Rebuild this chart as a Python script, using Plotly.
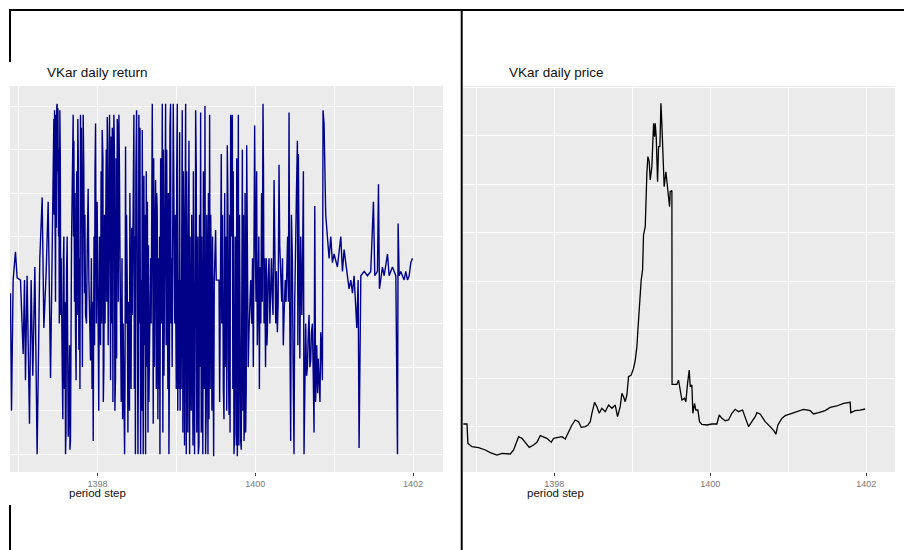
import plotly.graph_objects as go

# ---------------- data ----------------
# VKar daily return (percent), x = period step (Solar Hijri year, decimal)
ret_year = [
    1396.896, 1396.909, 1396.930, 1396.959, 1396.981, 1397.023, 1397.057, 1397.074, 1397.086, 1397.107,
    1397.137, 1397.158, 1397.179, 1397.205, 1397.234, 1397.268, 1397.298, 1397.319, 1397.349, 1397.374,
    1397.404, 1397.425, 1397.446, 1397.467, 1397.488, 1397.505, 1397.522, 1397.539, 1397.552, 1397.573,
    1397.594, 1397.615, 1397.636, 1397.657, 1397.670, 1397.691, 1397.708, 1397.721, 1397.750, 1397.763,
    1397.784, 1397.801, 1397.818, 1397.835, 1397.848, 1397.881, 1397.911, 1397.945, 1397.975, 1398.004,
    1398.038, 1398.059, 1398.080, 1398.101, 1398.123, 1398.135, 1398.152, 1398.165, 1398.207, 1398.228,
    1398.250, 1398.271, 1398.292, 1398.343, 1398.355, 1398.376, 1398.398, 1398.410, 1398.440, 1398.461,
    1398.474, 1398.495, 1398.512, 1398.524, 1398.546, 1398.567, 1398.579, 1398.588, 1398.609, 1398.618,
    1398.651, 1398.673, 1398.694, 1398.706, 1398.736, 1398.757, 1398.791, 1398.821, 1398.842, 1398.863,
    1398.884, 1398.905, 1398.926, 1398.939, 1398.960, 1398.977, 1398.990, 1399.011, 1399.024, 1399.041,
    1399.053, 1399.074, 1399.096, 1399.117, 1399.138, 1399.159, 1399.180, 1399.201, 1399.222, 1399.244,
    1399.265, 1399.286, 1399.307, 1399.328, 1399.349, 1399.362, 1399.370, 1399.392, 1399.413, 1399.421,
    1399.442, 1399.472, 1399.480, 1399.497, 1399.505, 1399.540, 1399.548, 1399.560, 1399.569, 1399.603,
    1399.624, 1399.645, 1399.667, 1399.688, 1399.709, 1399.730, 1399.751, 1399.772, 1399.785, 1399.815,
    1399.836, 1399.857, 1399.878, 1399.891, 1399.920, 1399.942, 1399.992, 1400.009, 1400.026, 1400.060,
    1400.098, 1400.111, 1400.153, 1400.174, 1400.195, 1400.216, 1400.238, 1400.259, 1400.280, 1400.301,
    1400.322, 1400.365, 1400.398, 1400.428, 1400.436, 1400.449, 1400.470, 1400.491, 1400.513, 1400.534,
    1400.546, 1400.555, 1400.576, 1400.610, 1400.618, 1400.639, 1400.661, 1400.682, 1400.703, 1400.724,
    1400.745, 1400.754, 1400.779, 1400.790, 1400.809, 1400.830, 1400.851, 1400.859, 1400.872, 1400.893,
    1400.914, 1400.936, 1400.957, 1400.978, 1400.999, 1401.041, 1401.084, 1401.105, 1401.126, 1401.168,
    1401.189, 1401.211, 1401.232, 1401.253, 1401.287, 1401.304, 1401.316, 1401.338, 1401.380, 1401.422,
    1401.464, 1401.498, 1401.515, 1401.549, 1401.562, 1401.574, 1401.612, 1401.634, 1401.676, 1401.697,
    1401.739, 1401.782, 1401.803, 1401.811, 1401.824, 1401.845, 1401.887, 1401.908, 1401.930, 1401.951,
    1401.972, 1401.993,
]
ret_pct = [
    -0.3, -3.0, 0.0, 0.65, 0.05, 0.0, -1.7, 0.0, -2.3, 0.1,
    -3.3, 0.0, -2.2, 0.3, -4.0, 0.5, 1.9, -1.1, 0.2, 1.8,
    -2.25, 0.8, 3.7, -0.5, 4.05, 1.0, 3.9, 0.5, -2.0, 1.0,
    -4.0, 1.0, -2.9, -3.7, 0.85, 3.8, -0.5, -1.2, 3.7, -1.6,
    3.8, 0.0, 3.8, -0.3, -0.8, 2.1, -1.85, -3.7, 3.6, -0.2,
    -1.5, 3.45, -2.0, 0.5, 3.75, -1.5, 3.8, -2.3, 3.8, -2.2,
    3.7, 3.8, -0.5, -4.0, 3.07, 0.0, -2.1, 2.0, -0.8, 3.8,
    1.0, 3.9, -4.0, 3.8, -4.0, 3.45, -4.0, 2.4, -4.0, 2.5,
    -2.8, 0.5, 4.05, -3.3, 2.3, 1.6, -4.0, 4.05, -2.2, 4.05,
    0.0, -4.0, 4.05, 0.5, 4.05, -1.0, -1.2, 4.05, 0.0, 3.4,
    0.0, 3.9, 0.5, 4.05, -0.5, 3.2, -2.2, 0.0, -3.3, 3.9,
    -1.0, -3.8, 3.85, -4.0, 0.5, 4.0, -4.0, 0.0, -3.2, 3.8,
    0.0, -4.05, 0.0, 1.15, 0.0, 0.0, -2.8, 0.0, 2.9, -3.2,
    0.0, 3.1, -3.1, 3.8, 3.8, -4.0, 0.5, -4.05, 3.8, -3.7,
    3.0, -3.7, -3.5, 3.1, -1.2, 0.0, 3.55, -0.5, -1.5, 0.3,
    4.05, -1.0, -1.2, 0.5, 0.0, -0.4, 2.3, -1.0, -1.2, 2.65,
    0.0, -0.8, 0.5, 3.85, -0.5, -3.7, 0.5, -4.0, 1.5, 3.2,
    2.9, -0.5, 1.0, 2.5, -4.0, -1.0, -2.0, -0.8, -1.85, -1.0,
    -3.5, 1.7, -1.5, -2.6, -2.2, -1.2, -2.3, 3.9, 3.6, 1.5,
    1.0, 0.5, 1.0, 0.4, 0.6, 0.3, 1.0, 0.2, 0.7, 0.1,
    -0.2, 0.0, -0.3, 0.1, -1.1, 0.0, -3.86, 0.1, 0.2, 0.1,
    0.2, 1.8, 0.1, 0.2, 2.2, -0.2, 0.3, 0.1, 0.6, 0.1,
    0.3, 0.1, -4.0, 1.3, 0.1, 0.2, 0.0, 0.2, 0.0, 0.1,
    0.4, 0.5,
]

dense_year = [
    1397.450, 1397.455, 1397.460, 1397.472, 1397.478, 1397.483, 1397.493, 1397.498, 1397.510, 1397.515,
    1397.528, 1397.533, 1397.560, 1397.567, 1397.580, 1397.588, 1397.600, 1397.607, 1397.622, 1397.628,
    1397.645, 1397.650, 1397.695, 1397.700, 1397.714, 1397.728, 1397.735, 1397.742, 1397.756, 1397.770,
    1397.777, 1397.790, 1397.795, 1397.808, 1397.812, 1397.825, 1397.840, 1397.860, 1397.870, 1397.890,
    1397.900, 1397.922, 1397.930, 1397.938, 1397.955, 1397.962, 1397.968, 1397.985, 1397.995, 1398.015,
    1398.025, 1398.045, 1398.052, 1398.068, 1398.073, 1398.088, 1398.095, 1398.110, 1398.117, 1398.128,
    1398.142, 1398.158, 1398.172, 1398.180, 1398.187, 1398.195, 1398.200, 1398.214, 1398.220, 1398.235,
    1398.242, 1398.257, 1398.264, 1398.278, 1398.285, 1398.300, 1398.310, 1398.318, 1398.325, 1398.333,
    1398.348, 1398.362, 1398.368, 1398.385, 1398.392, 1398.405, 1398.418, 1398.425, 1398.433, 1398.466,
    1398.480, 1398.486, 1398.503, 1398.518, 1398.530, 1398.538, 1398.556, 1398.560, 1398.572, 1398.584,
    1398.595, 1398.600, 1398.625, 1398.632, 1398.640, 1398.645, 1398.680, 1398.688, 1398.700, 1398.712,
    1398.720, 1398.728, 1398.745, 1398.750, 1398.765, 1398.772, 1398.780, 1398.786, 1398.800, 1398.808,
    1398.815, 1398.828, 1398.835, 1398.850, 1398.856, 1398.870, 1398.877, 1398.892, 1398.898, 1398.912,
    1398.918, 1398.932, 1398.946, 1398.953, 1398.968, 1398.984, 1398.998, 1399.004, 1399.017, 1399.030,
    1399.035, 1399.047, 1399.060, 1399.066, 1399.082, 1399.088, 1399.103, 1399.110, 1399.125, 1399.130,
    1399.145, 1399.152, 1399.167, 1399.173, 1399.188, 1399.194, 1399.210, 1399.215, 1399.230, 1399.237,
    1399.252, 1399.258, 1399.272, 1399.278, 1399.293, 1399.300, 1399.315, 1399.320, 1399.335, 1399.342,
    1399.355, 1399.378, 1399.385, 1399.400, 1399.406, 1399.428, 1399.435, 1399.450, 1399.458, 1399.465,
    1399.575, 1399.585, 1399.595, 1399.612, 1399.618, 1399.632, 1399.638, 1399.652, 1399.660, 1399.675,
    1399.680, 1399.695, 1399.700, 1399.715, 1399.720, 1399.738, 1399.745, 1399.760, 1399.765, 1399.778,
    1399.792, 1399.800, 1399.808, 1399.822, 1399.828, 1399.843, 1399.850, 1399.865, 1399.870, 1399.885,
    1399.900, 1399.910, 1399.930, 1399.955, 1399.965, 1399.975, 1399.985, 1400.000, 1400.017, 1400.035,
    1400.045, 1400.052, 1400.070, 1400.080, 1400.088, 1400.104, 1400.120, 1400.130, 1400.140, 1400.147,
    1400.162, 1400.185, 1400.205, 1400.225, 1400.245, 1400.268, 1400.290, 1400.310, 1400.335, 1400.345,
    1400.355, 1400.380, 1400.390, 1400.410, 1400.420, 1400.458, 1400.480, 1400.500, 1400.522, 1400.540,
    1400.565, 1400.590, 1400.600, 1400.628, 1400.650, 1400.672, 1400.692, 1400.712, 1400.735, 1400.765,
    1400.798, 1400.820, 1400.840,
]
dense_pct = [
    1.5, 3.9, 2.0, 3.8, 1.2, 4.0, 2.5, 3.95, 3.0, -1.0,
    2.8, -0.8, -3.2, 0.5, -2.5, -0.5, -3.5, 0.2, -1.8, -3.6,
    -1.5, -3.9, 1.0, 3.2, 2.0, -2.3, 2.5, -0.8, 2.8, 0.5,
    -2.5, 1.2, 3.5, -2.0, 1.0, 2.7, 1.5, -1.0, 0.8, 0.0,
    -1.2, 0.5, -2.5, -0.5, 1.0, -1.5, 2.5, -1.0, 1.8, -3.0,
    1.0, 2.5, -1.0, 2.8, -2.8, 1.5, -1.0, 3.0, -0.5, 3.2,
    2.2, 1.0, 3.3, -1.0, 3.5, -2.8, 2.0, 3.0, -3.0, 2.8,
    -1.8, 3.4, -0.5, 2.5, 0.5, -2.8, 0.5, -3.2, -1.0, -3.8,
    -2.5, -1.0, 1.5, -3.5, -0.5, -3.0, 0.0, -2.5, 1.2, -2.5,
    -4.0, 2.5, 0.5, -2.0, -1.0, 3.5, 0.0, -3.0, 1.0, -2.0,
    -1.5, 1.5, -2.0, 1.8, -3.5, 0.8, -1.0, 3.5, 1.0, 2.8,
    -2.0, 1.0, -2.5, 2.0, -3.2, 0.5, -2.5, 1.0, 2.8, -1.0,
    3.5, -3.5, 3.0, 1.0, 3.5, -1.5, 3.0, -2.5, 2.0, -2.0,
    3.5, -1.0, -2.0, 3.2, 2.0, 1.5, -2.5, 2.5, -3.0, -2.5,
    2.0, -3.0, -2.5, 1.5, -3.5, 2.5, -3.8, 1.5, -4.0, 2.5,
    -3.5, 1.0, -4.0, 1.0, -3.0, 1.5, -3.8, 2.5, -4.0, -1.5,
    2.5, -3.5, 1.0, -4.0, 1.5, -2.0, -3.5, 1.0, -4.0, 2.5,
    -2.5, -3.0, 1.5, -4.0, 2.0, -2.5, 1.5, -3.0, 1.0, -3.5,
    -1.0, 1.5, -2.5, 2.0, -2.0, 1.0, -3.0, 2.0, -2.0, 1.5,
    -3.5, 1.0, 3.5, -2.5, 2.5, -3.5, 1.0, -3.8, 2.8, -2.5,
    -3.8, 1.5, -3.0, -3.9, 1.0, -3.0, 1.5, -3.2, 2.0, -2.5,
    1.0, -2.0, -0.5, -1.0, 0.5, -2.0, 1.5, 1.0, 2.5, -0.5,
    1.0, -2.5, -1.0, 2.0, -0.5, 2.5, 0.5, -2.0, 0.5, -1.5,
    0.0, -1.0, 0.5, -0.8, 1.0, 0.2, -0.5, 0.8, -0.5, 0.5,
    -1.5, 0.0, -0.5, 1.0, -0.5, 1.5, -2.0, -0.5, 2.0, -1.5,
    -1.8, -0.8, 0.5, -2.5, -2.2, -1.2, -2.0, -1.2, -2.2, -2.8,
    -1.8, -2.8, -1.5,
]

# VKar daily price (rial)
price_year = [
    1396.835, 1396.881, 1396.893, 1396.945, 1397.030, 1397.116, 1397.180, 1397.265, 1397.329, 1397.436,
    1397.479, 1397.543, 1397.586, 1397.628, 1397.680, 1397.735, 1397.778, 1397.821, 1397.863, 1397.906,
    1397.962, 1397.992, 1398.034, 1398.099, 1398.141, 1398.184, 1398.227, 1398.269, 1398.312, 1398.346,
    1398.398, 1398.432, 1398.462, 1398.483, 1398.517, 1398.547, 1398.577, 1398.611, 1398.654, 1398.697,
    1398.740, 1398.782, 1398.812, 1398.846, 1398.868, 1398.889, 1398.910, 1398.932, 1398.953, 1398.987,
    1399.017, 1399.039, 1399.060, 1399.073, 1399.090, 1399.103, 1399.115, 1399.133, 1399.145, 1399.167,
    1399.175, 1399.188, 1399.201, 1399.218, 1399.231, 1399.252, 1399.274, 1399.287, 1399.295, 1399.308,
    1399.325, 1399.338, 1399.355, 1399.368, 1399.380, 1399.393, 1399.410, 1399.432, 1399.453, 1399.466,
    1399.479, 1399.487, 1399.509, 1399.511, 1399.573, 1399.594, 1399.615, 1399.637, 1399.671, 1399.688,
    1399.710, 1399.731, 1399.744, 1399.765, 1399.778, 1399.799, 1399.816, 1399.842, 1399.863, 1399.893,
    1399.957, 1400.022, 1400.086, 1400.116, 1400.150, 1400.193, 1400.235, 1400.278, 1400.321, 1400.363,
    1400.415, 1400.449, 1400.492, 1400.534, 1400.577, 1400.599, 1400.641, 1400.663, 1400.705, 1400.769,
    1400.825, 1400.842, 1400.868, 1400.919, 1400.962, 1401.047, 1401.133, 1401.197, 1401.282, 1401.325,
    1401.389, 1401.474, 1401.539, 1401.624, 1401.710, 1401.795, 1401.803, 1401.859, 1401.923, 1401.987,
]
price_val = [
    1052, 1052, 653, 584, 564, 516, 461, 412, 447, 433,
    516, 790, 756, 674, 571, 619, 674, 811, 790, 756,
    674, 756, 770, 790, 742, 894, 1031, 1134, 1100, 983,
    997, 1031, 1100, 1272, 1498, 1409, 1272, 1375, 1306, 1443,
    1375, 1443, 1203, 1409, 1684, 1615, 1512, 1650, 2028, 2062,
    2199, 2371, 2646, 2990, 3402, 3746, 4021, 4227, 4949, 5120,
    5739, 6220, 6564, 6461, 6083, 6358, 7251, 6976, 7251, 6976,
    6048, 6770, 6770, 7663, 7251, 6701, 5945, 6254, 5945, 5739,
    5533, 5842, 5863, 1870, 1870, 1959, 1753, 1547, 1581, 1512,
    1890, 2165, 1821, 1856, 1272, 1478, 1340, 1340, 1100, 1045,
    1031, 1052, 1052, 1237, 1169, 1120, 1134, 1272, 1354, 1306,
    1340, 1203, 997, 1100, 1203, 1285, 1258, 1203, 1100, 997,
    894, 839, 1031, 1169, 1224, 1272, 1327, 1354, 1327, 1258,
    1285, 1327, 1395, 1423, 1478, 1498, 1285, 1327, 1340, 1361,
]

x_ticks = [1398, 1400, 1402]
x_tick_labels = ["1398", "1400", "1402"]
titles = ["VKar daily return", "VKar daily price"]
x_title = "period step"

# merged, time-ordered return series
ret_pairs = sorted(zip(ret_year + dense_year, ret_pct + dense_pct))
ret_x = [p[0] for p in ret_pairs]
ret_y = [p[1] for p in ret_pairs]

# ---------------- figure ----------------
W, H = 904, 550
FONT = "Liberation Sans, Arial, sans-serif"
PANEL = "#EBEBEB"

def px_x(p):
    return p / W

def px_y(p):
    return 1 - p / H

fig = go.Figure()
fig.add_trace(go.Scatter(x=ret_x, y=ret_y, mode="lines",
                         line=dict(color="#000088", width=1.4),
                         xaxis="x", yaxis="y", hoverinfo="skip"))
fig.add_trace(go.Scatter(x=price_year, y=price_val, mode="lines",
                         line=dict(color="#000000", width=1.3),
                         xaxis="x2", yaxis="y2", hoverinfo="skip"))

ydom = [px_y(472), px_y(86)]

def xaxis_cfg(domain, rng, anchor):
    return dict(domain=domain, range=rng, anchor=anchor,
                tickmode="array", tickvals=x_ticks, ticktext=x_tick_labels,
                ticks="outside", ticklen=3, tickwidth=1, tickcolor="#444444",
                tickfont=dict(family=FONT, size=9, color="#777777"),
                showgrid=True, gridcolor="white", gridwidth=1.2,
                minor=dict(tickmode="linear", tick0=1397, dtick=1, showgrid=True,
                           gridcolor="white", gridwidth=0.6, ticks=""),
                zeroline=False, showline=False, fixedrange=True)

def yaxis_cfg(rng, anchor, dtick, mdtick):
    return dict(domain=ydom, range=rng, anchor=anchor,
                tickmode="linear", tick0=0, dtick=dtick,
                showticklabels=False, ticks="",
                showgrid=True, gridcolor="white", gridwidth=1.2,
                minor=dict(tickmode="linear", tick0=mdtick, dtick=mdtick, showgrid=True,
                           gridcolor="white", gridwidth=0.6, ticks=""),
                zeroline=False, showline=False, fixedrange=True)

fig.update_layout(
    width=W, height=H,
    margin=dict(l=0, r=0, t=0, b=0),
    paper_bgcolor="white", plot_bgcolor=PANEL,
    showlegend=False,
    xaxis=xaxis_cfg([px_x(10), px_x(443)], [1396.89, 1402.38], "y"),
    yaxis=yaxis_cfg([-4.41, 4.46], "x", 2, 1),
    xaxis2=xaxis_cfg([px_x(463), px_x(895)], [1396.83, 1402.37], "y2"),
    yaxis2=yaxis_cfg([62, 8021], "x2", 2000, 1000),
)

annotations = [
    dict(text=titles[0], x=px_x(45), y=px_y(73), xanchor="left", yanchor="middle",
         font=dict(family=FONT, size=13.5, color="#111111")),
    dict(text=titles[1], x=px_x(507), y=px_y(73), xanchor="left", yanchor="middle",
         font=dict(family=FONT, size=13.5, color="#111111")),
    dict(text=x_title, x=px_x(97), y=px_y(493), xanchor="center", yanchor="middle",
         font=dict(family=FONT, size=11.5, color="#111111")),
    dict(text=x_title, x=px_x(555), y=px_y(493), xanchor="center", yanchor="middle",
         font=dict(family=FONT, size=11.5, color="#111111")),
]
for a in annotations:
    a.update(xref="paper", yref="paper", showarrow=False)
fig.update_layout(annotations=annotations)

# table borders around the two images
border = dict(color="black", width=2)
shapes = [
    dict(type="line", x0=px_x(9), x1=1, y0=px_y(10), y1=px_y(10), line=border),
    dict(type="line", x0=px_x(10), x1=px_x(10), y0=px_y(10), y1=px_y(62), line=border),
    dict(type="line", x0=px_x(10), x1=px_x(10), y0=px_y(505), y1=0, line=border),
    dict(type="line", x0=px_x(461.7), x1=px_x(461.7), y0=px_y(10), y1=0, line=border),
]
for s in shapes:
    s.update(xref="paper", yref="paper")
fig.update_layout(shapes=shapes)

fig.write_html("out.html")
